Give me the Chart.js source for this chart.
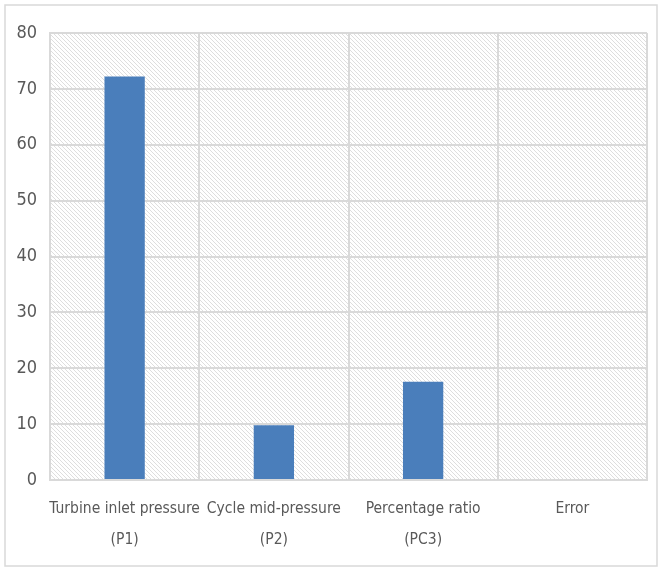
<!DOCTYPE html>
<html>
<head>
<meta charset="utf-8">
<script src="https://cdn.jsdelivr.net/npm/chart.js@4/dist/chart.umd.min.js"></script>
<style>
  html, body { margin: 0; padding: 0; background: #ffffff; }
  #wrap { position: relative; width: 662px; height: 569px; }
</style>
</head>
<body>
<div id="wrap"><canvas id="c" width="662" height="569"></canvas></div>
<script>
// Categories (two-line labels) and the measured values
const categories = [
  ['Turbine inlet pressure', '(P1)'],
  ['Cycle mid-pressure', '(P2)'],
  ['Percentage ratio', '(PC3)'],
  'Error'
];
const values = [72.2, 9.8, 17.6, 0];
const yTicks = [0, 10, 20, 30, 40, 50, 60, 70, 80];

const FONT = "'Liberation Sans Narrow', 'Arial Narrow', 'DejaVu Sans Condensed', sans-serif";
const TEXT = '#595959';
const GRID = '#d9d9d9';

// Diagonal hatch tile for the plot background
function hatchPattern(ctx) {
  const s = 4;
  const t = document.createElement('canvas');
  t.width = s; t.height = s;
  const g = t.getContext('2d');
  g.strokeStyle = '#dedede';
  g.lineWidth = 1;
  g.beginPath();
  g.moveTo(-1, -1); g.lineTo(s + 1, s + 1);
  g.moveTo(-1, s - 1); g.lineTo(1, s + 1);
  g.moveTo(s - 1, -1); g.lineTo(s + 1, 1);
  g.stroke();
  return ctx.createPattern(t, 'repeat');
}

const background = {
  id: 'background',
  beforeDraw(chart) {
    const { ctx, chartArea: a } = chart;
    ctx.save();
    ctx.fillStyle = '#ffffff';
    ctx.fillRect(0, 0, chart.width, chart.height);
    // outer frame
    ctx.strokeStyle = '#d9d9d9';
    ctx.lineWidth = 1.5;
    ctx.strokeRect(5, 5, 652, 561);
    // hatched plot area
    ctx.fillStyle = hatchPattern(ctx);
    ctx.fillRect(a.left, a.top, a.right - a.left, a.bottom - a.top);
    ctx.restore();
  }
};

new Chart(document.getElementById('c'), {
  type: 'bar',
  data: {
    labels: categories,
    datasets: [{
      data: values,
      backgroundColor: '#4a7ebb',
      borderWidth: 0,
      categoryPercentage: 1,
      barPercentage: 0.27
    }]
  },
  options: {
    responsive: false,
    animation: false,
    devicePixelRatio: 1,
    layout: { padding: { left: 0, top: 33, right: 15, bottom: 0 } },
    plugins: {
      legend: { display: false },
      tooltip: { enabled: false }
    },
    scales: {
      x: {
        afterFit(scale) { scale.height = 89; },
        grid: { color: GRID, lineWidth: 2, offset: true, drawTicks: false },
        border: { color: GRID, width: 2 },
        ticks: {
          color: TEXT,
          font: { family: FONT, size: 15.5, lineHeight: 2 },
          padding: 13,
          maxRotation: 0,
          autoSkip: false
        }
      },
      y: {
        min: 0,
        max: 80,
        afterFit(scale) { scale.width = 50; },
        afterBuildTicks(scale) { scale.ticks = yTicks.map(v => ({ value: v })); },
        grid: { color: GRID, lineWidth: 2, drawTicks: false },
        border: { color: GRID, width: 2 },
        ticks: {
          color: TEXT,
          font: { family: FONT, size: 18 },
          padding: 13
        }
      }
    }
  },
  plugins: [background]
});
</script>
</body>
</html>
